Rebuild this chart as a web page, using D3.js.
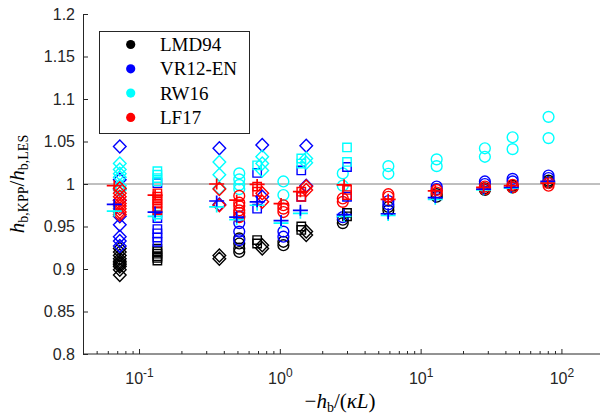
<!DOCTYPE html>
<html>
<head>
<meta charset="utf-8">
<script src="https://cdn.jsdelivr.net/npm/d3@7"></script>
<style>
  body { margin: 0; background: #fff; }
  svg { display: block; }
</style>
</head>
<body>
<svg id="chart" width="600" height="419"></svg>
<script>
// stability parameter of each group of cases and the marker it uses
const groupX = [0.073, 0.135, 0.372, 0.515, 0.69, 0.75, 1.06, 1.42, 1.54, 2.8, 3.0, 5.9, 13, 28.6, 45, 81]
const groupMarker = ['diamond', 'square', 'diamond', 'circle', 'square', 'diamond', 'circle', 'square',
  'diamond', 'circle', 'square', 'circle', 'circle', 'circle', 'circle', 'circle']

// h_b,KPP / h_b,LES per group, one array per scheme
const lmd94 = [
  [0.924, 0.920, 0.916, 0.912, 0.909, 0.907, 0.905, 0.903, 0.899, 0.893],
  [0.924, 0.921, 0.918, 0.915, 0.913, 0.910],
  [0.916, 0.912],
  [0.936, 0.930, 0.924, 0.920],
  [0.934, 0.930],
  [0.928, 0.924],
  [0.932, 0.928],
  [0.950, 0.946],
  [0.944, 0.940],
  [0.958, 0.954],
  [0.966, 0.962],
  [0.973, 0.969],
  [0.988, 0.985],
  [0.995, 0.993],
  [0.998, 0.996],
  [1.004, 1.002]
]
const vr12 = [
  [1.044, 1.005, 0.994, 0.981, 0.962, 0.952, 0.938, 0.933, 0.927],
  [1.001, 0.960, 0.947, 0.942, 0.937, 0.932],
  [1.042, 0.976],
  [0.962, 0.954, 0.944, 0.934],
  [1.013, 0.971],
  [1.046, 0.985],
  [0.944, 0.938],
  [1.016, 0.985],
  [1.045, 0.998],
  [0.961],
  [1.020, 0.985],
  [0.980, 0.976],
  [0.997, 0.994],
  [1.003, 1.000],
  [1.006, 1.003],
  [1.010, 1.007]
]
const rw16 = [
  [1.024, 1.017, 1.012, 1.008, 0.998, 0.993],
  [1.015, 1.011, 1.007, 1.003, 0.964],
  [1.026, 1.011, 0.995],
  [1.0125, 1.0055, 0.999, 0.994],
  [1.022],
  [1.032, 1.024, 1.016],
  [1.003, 0.987],
  [1.030, 1.024],
  [1.030, 1.025],
  [1.0125, 0.998],
  [1.043, 1.026],
  [1.021, 1.012],
  [1.029, 1.021],
  [1.042, 1.032],
  [1.055, 1.041],
  [1.079, 1.054]
]
const lf17 = [
  [0.995, 0.989, 0.985, 0.981, 0.977, 0.974, 0.971, 0.967, 0.964],
  [0.989, 0.985, 0.981, 0.977, 0.973, 0.969],
  [0.994, 0.975],
  [0.986, 0.978, 0.974, 0.969, 0.966, 0.961],
  [0.997, 0.991],
  [0.989, 0.979],
  [0.975, 0.971, 0.967],
  [0.991, 0.985],
  [0.997, 0.993],
  [0.983, 0.979],
  [0.993, 0.987],
  [0.988, 0.985],
  [0.993, 0.990],
  [0.997, 0.994],
  [0.999, 0.996],
  [1.001, 0.998]
]

// '+' marks
const plusX = [0.0667, 0.130, 0.356, 0.494, 0.69, 1.02, 1.40, 2.86, 5.88, 12.7, 28, 44, 80]
const vr12Plus = [0.976, 0.967, 0.980, 0.961, 0.979, 0.957, 0.969, 0.964, 0.965, 0.984, 0.994, 0.996, 1.003]
const rw16Plus = [0.968, 0.962, 0.973, 0.958, 0.975, 0.954, 0.9655, 0.962, 0.963, 0.982, 0.993, 0.995, 1.001]
const lf17Plus = [0.998, 0.987, 1.000, 0.981, 0.9995, 0.977, 0.991, 0.999, 0.982, 0.992, 0.996, 0.998, 1.001]

const models = ['LMD94', 'VR12-EN', 'RW16', 'LF17']
const colors = ['#000000', '#0000ff', '#00ffff', '#ff0000']
const xTicks = [0.1, 1, 10, 100]
const yTicks = [0.8, 0.85, 0.9, 0.95, 1, 1.05, 1.1, 1.15, 1.2]

const svg = d3.select('#chart')
const padL = 83, padT = 14, padB = 354, decade = 140.8

const x = d3.scaleLog().domain([0.04, 200]).range([padL, padL + Math.log10(200 / 0.04) * decade])
const y = d3.scaleLinear().domain([0.8, 1.2]).range([padB, padT])

// reference line at 1
svg.append('line')
  .attr('x1', x(0.04)).attr('x2', 600)
  .attr('y1', y(1)).attr('y2', y(1))
  .attr('stroke', '#808080').attr('stroke-width', 1)

function markerPath(type) {
  if (type === 'diamond') return 'M0,-6.5L6.3,0L0,6.5L-6.3,0Z'
  if (type === 'square') return 'M-4.2,-4.2H4.2V4.2H-4.2Z'
  return 'M5.4,0A5.4,5.4 0 1,1 -5.4,0A5.4,5.4 0 1,1 5.4,0Z'
}

const series = [lmd94, vr12, rw16, lf17]
const pts = []
groupX.forEach((gx, g) => {
  series.forEach((s, m) => {
    s[g].forEach(v => pts.push({x: gx, y: v, m: m, shape: groupMarker[g]}))
  })
})

svg.append('g').selectAll('path')
  .data(pts)
  .enter()
  .append('path')
  .attr('d', d => markerPath(d.shape))
  .attr('transform', d => `translate(${x(d.x)},${y(d.y)})`)
  .attr('fill', 'none')
  .attr('stroke', d => colors[d.m])
  .attr('stroke-width', 1.4)

const plusPts = []
plusX.forEach((px, i) => {
  plusPts.push({x: px, y: rw16Plus[i], m: 2})
  plusPts.push({x: px, y: vr12Plus[i], m: 1})
  plusPts.push({x: px, y: lf17Plus[i], m: 3})
})

svg.append('g').selectAll('path')
  .data(plusPts)
  .enter()
  .append('path')
  .attr('d', 'M-7.5,0H7.5M0,-5.5V5.5')
  .attr('transform', d => `translate(${x(d.x)},${y(d.y)})`)
  .attr('fill', 'none')
  .attr('stroke', d => colors[d.m])
  .attr('stroke-width', 1.7)

// axes, ticks pointing inward
const minor = x.ticks().filter(t => !xTicks.includes(t))

svg.append('g')
  .attr('transform', `translate(0,${padB})`)
  .call(d3.axisBottom(x).tickValues(minor).tickSize(-3).tickSizeOuter(0).tickFormat(''))
  .call(g => g.select('.domain').remove())
  .selectAll('line').attr('stroke', '#262626')

const xAxis = svg.append('g')
  .attr('transform', `translate(0,${padB})`)
  .call(d3.axisBottom(x).tickValues(xTicks).tickSize(-5).tickSizeOuter(0).tickPadding(19))
xAxis.select('.domain').attr('d', `M${x(0.04)},0H600`).attr('stroke', '#262626')
xAxis.selectAll('line').attr('stroke', '#262626')
xAxis.selectAll('text')
  .attr('font-family', 'Liberation Sans, Arial, sans-serif')
  .attr('font-size', 16)
  .attr('fill', '#262626')
  .attr('dy', '0.71em')
  .text('')
  .each(function(d) {
    const t = d3.select(this)
    t.append('tspan').text('10')
    t.append('tspan').attr('dy', -7).attr('font-size', 12).text(Math.round(Math.log10(d)))
  })

const yAxis = svg.append('g')
  .attr('transform', `translate(${padL},0)`)
  .call(d3.axisLeft(y).tickValues(yTicks).tickSize(-5).tickSizeOuter(0).tickPadding(8).tickFormat(d3.format('~g')))
yAxis.select('.domain').attr('stroke', '#262626')
yAxis.selectAll('line').attr('stroke', '#262626')
yAxis.selectAll('text')
  .attr('font-family', 'Liberation Sans, Arial, sans-serif')
  .attr('font-size', 16)
  .attr('fill', '#262626')

// axis labels
const serif = 'Liberation Serif, Times New Roman, serif'
const xl = svg.append('text')
  .attr('x', 340).attr('y', 408)
  .attr('text-anchor', 'middle')
  .attr('font-family', serif).attr('font-size', 21)
xl.append('tspan').text('\u2212')
xl.append('tspan').attr('font-style', 'italic').text('h')
xl.append('tspan').attr('font-size', 14).attr('dy', 4).text('b')
xl.append('tspan').attr('dy', -4).text('/(')
xl.append('tspan').attr('font-style', 'italic').text('\u03BAL')
xl.append('tspan').text(')')

const yl = svg.append('text')
  .attr('transform', `translate(24,${(padT + padB) / 2}) rotate(-90)`)
  .attr('text-anchor', 'middle')
  .attr('font-family', serif).attr('font-size', 21)
yl.append('tspan').attr('font-style', 'italic').text('h')
yl.append('tspan').attr('font-size', 14).attr('dy', 4).text('b,KPP')
yl.append('tspan').attr('dy', -4).text('/')
yl.append('tspan').attr('font-style', 'italic').text('h')
yl.append('tspan').attr('font-size', 14).attr('dy', 4).text('b,LES')

// legend
const legend = svg.append('g')
legend.append('rect')
  .attr('x', 99.5).attr('y', 31.5).attr('width', 150).attr('height', 102)
  .attr('fill', '#fff').attr('stroke', '#262626').attr('stroke-width', 1)

const item = legend.selectAll('g.item')
  .data(models)
  .enter()
  .append('g')
  .attr('transform', (d, i) => `translate(0,${44.5 + i * 24.3})`)
item.append('circle')
  .attr('cx', 130.7).attr('cy', 0).attr('r', 4.6)
  .attr('fill', (d, i) => colors[i])
item.append('text')
  .attr('x', 160).attr('y', 6.5)
  .attr('font-family', serif).attr('font-size', 19)
  .text(d => d)
</script>
</body>
</html>
